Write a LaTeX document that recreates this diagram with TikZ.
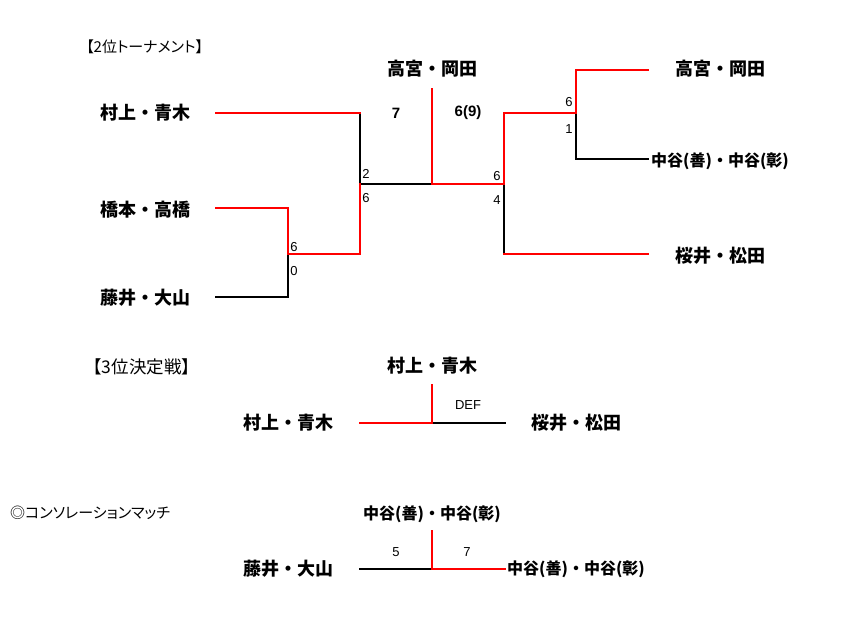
\documentclass[tikz,border=0pt]{standalone}
\usepackage{fontspec}
\setmainfont{Liberation Sans}
\newfontfamily\jp{Noto Sans CJK JP}
\newfontfamily\jpp[RawFeature=+palt]{Noto Sans CJK JP}
\tikzset{
  win/.style={draw=red, line width=2pt, line cap=rect},
  lose/.style={draw=black, line width=2pt, line cap=rect},
  pname/.style={font=\jp\bfseries\fontsize{18}{18}\selectfont, inner sep=0pt},
  spname/.style={font=\jp\bfseries\fontsize{16}{16}\selectfont, inner sep=0pt},
  score/.style={font=\fontsize{13}{13}\selectfont, inner sep=0pt},
  bscore/.style={font=\bfseries\fontsize{15}{15}\selectfont, inner sep=0pt},
  ttl/.style={font=\jpp\fontsize{15}{15}\selectfont, inner sep=0pt, anchor=west},
}
\begin{document}
\begin{tikzpicture}[x=1pt,y=-1pt]
\useasboundingbox (0,0) rectangle (865,624);
% ---------- titles
\node[ttl] (t1) at (86,47) {【2位トーナメント】};
\node[ttl, font=\jpp\fontsize{17.5}{17.5}\selectfont] (t2) at (93,367) {【3位決定戦】};
\node[ttl, font=\jpp\fontsize{15}{15}\selectfont] (t3) at (10,513) {◎コンソレーションマッチ};
% ---------- main bracket names
\node[pname] (n1) at (145,113) {村上・青木};
\node[pname] (n2) at (145,210) {橋本・高橋};
\node[pname] (n3) at (145,298) {藤井・大山};
\node[pname] (champ) at (432,69) {高宮・岡田};
\node[pname] (n4) at (720,69) {高宮・岡田};
\node[spname] (n5) at (720,161) {中谷(善)・中谷(彰)};
\node[pname] (n6) at (720,256) {桜井・松田};
% coordinates
\coordinate (p1) at (216,113); \coordinate (j1) at (360,113);
\coordinate (p2) at (216,208); \coordinate (j2) at (288,208);
\coordinate (p3) at (216,297); \coordinate (j3) at (288,297);
\coordinate (m1) at (288,254); \coordinate (m1r) at (360,254);
\coordinate (s1) at (360,184); \coordinate (f) at (432,184);
\coordinate (ftop) at (432,89);
\coordinate (s2) at (504,184); \coordinate (s2t) at (504,113); \coordinate (s2b) at (504,254);
\coordinate (q) at (576,113); \coordinate (qt) at (576,70); \coordinate (qb) at (576,159);
\coordinate (r1) at (648,70); \coordinate (r2) at (648,159); \coordinate (r3) at (648,254);
% lines
\draw[lose] (j1) -- (s1);
\draw[lose] (j3) -- (m1);
\draw[lose] (p3) -- (j3);
\draw[lose] (s1) -- (f);
\draw[lose] (s2) -- (s2b);
\draw[lose] (q) -- (qb) -- (r2);
\draw[win] (p1) -- (j1);
\draw[win] (p2) -- (j2) -- (m1);
\draw[win] (m1) -- (m1r) -- (s1);
\draw[win] (ftop) -- (f);
\draw[win] (f) -- (s2);
\draw[win] (s2) -- (s2t) -- (q);
\draw[win] (q) -- (qt) -- (r1);
\draw[win] (s2b) -- (r3);
% scores
\node[score] (a1) at (366,174) {2};
\node[score] (a2) at (366,198) {6};
\node[score] (a3) at (294,247) {6};
\node[score] (a4) at (294,271) {0};
\node[score] (a5) at (497,176) {6};
\node[score] (a6) at (497,200) {4};
\node[score] (a7) at (569,102) {6};
\node[score] (a8) at (569,129) {1};
\node[bscore] (b1) at (396,113) {7};
\node[bscore] (b2) at (468,113) {6(9)};
% ---------- 3rd place
\node[pname] (w3) at (432,366) {村上・青木};
\node[pname] (l3a) at (288,423) {村上・青木};
\node[pname] (l3b) at (576,423) {桜井・松田};
\coordinate (c3) at (432,423); \coordinate (c3t) at (432,385);
\coordinate (c3l) at (360,423); \coordinate (c3r) at (505,423);
\draw[lose] (c3) -- (c3r);
\draw[win] (c3l) -- (c3);
\draw[win] (c3t) -- (c3);
\node[score] (def) at (468,405) {DEF};
% ---------- consolation
\node[spname] (wc) at (432,514) {中谷(善)・中谷(彰)};
\node[pname] (lca) at (288,569) {藤井・大山};
\node[spname] (lcb) at (576,569) {中谷(善)・中谷(彰)};
\coordinate (cc) at (432,569); \coordinate (cct) at (432,531);
\coordinate (ccl) at (360,569); \coordinate (ccr) at (505,569);
\draw[lose] (ccl) -- (cc);
\draw[win] (cc) -- (ccr);
\draw[win] (cct) -- (cc);
\node[score] (c5) at (396,552) {5};
\node[score] (c7) at (467,552) {7};
\end{tikzpicture}
\end{document}
